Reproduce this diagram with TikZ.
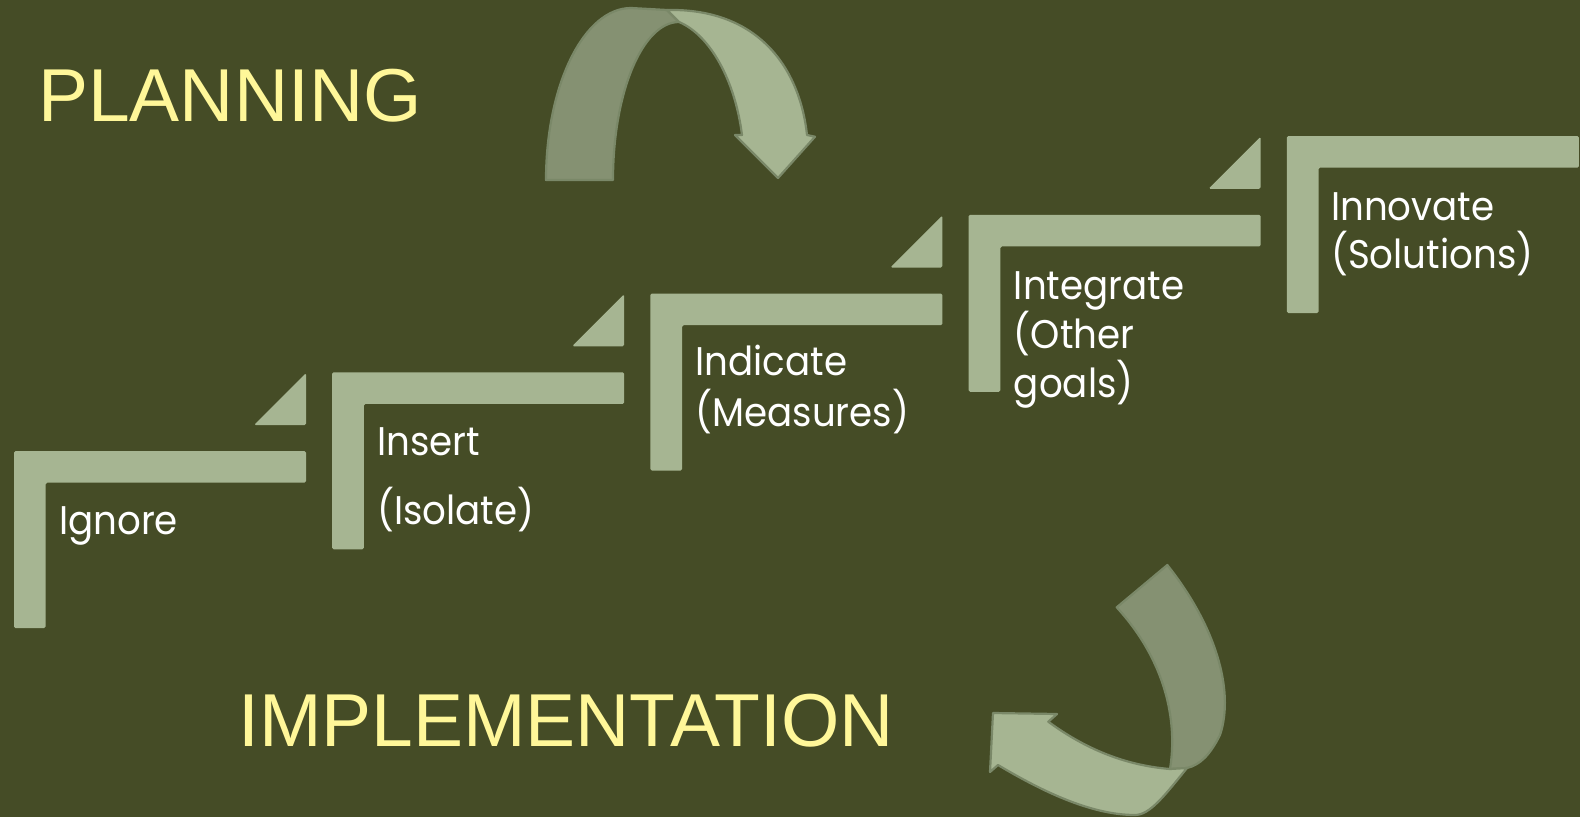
\documentclass[tikz,border=0pt]{standalone}
\usepackage{fontspec}
\usepackage{graphicx}
\newfontfamily\titlefont{Liberation Sans}
\newfontfamily\stepfont{Poppins}
\newcommand{\stxt}[1]{\scalebox{0.93}[1]{#1}}
\definecolor{bgc}{RGB}{69,76,38}
\definecolor{stepc}{RGB}{166,181,146}
\definecolor{darkc}{RGB}{133,145,114}
\definecolor{edgec}{RGB}{122,136,104}
\definecolor{titlec}{RGB}{255,247,153}
\tikzset{
  stepshape/.style={fill=stepc, rounded corners=1.5pt},
  steptext/.style={text=white, font=\stepfont\fontsize{40}{48}\selectfont, anchor=base west, inner sep=0pt},
  titletext/.style={text=titlec, font=\titlefont\fontsize{75}{90}\selectfont, anchor=base west, inner sep=0pt},
  arrowdark/.style={fill=darkc, draw=edgec, line width=2.2pt, line join=round},
  arrowlight/.style={fill=stepc, draw=edgec, line width=2.2pt, line join=round},
}
\begin{document}
\begin{tikzpicture}[x=1pt,y=-1pt]
\fill[bgc] (0,0) rectangle (1580,817);
\useasboundingbox (0,0) rectangle (1580,817);
% steps
\foreach \i in {0,...,4}{
  \pgfmathsetmacro{\sx}{14+318.2*\i}
  \pgfmathsetmacro{\sy}{451-78.75*\i}
  \fill[stepshape] (\sx,\sy) -- ++(292,0) -- ++(0,31.7) -- ++(-260.3,0) -- ++(0,145.3) -- ++(-31.7,0) -- cycle;
}
\foreach \i in {0,...,3}{
  \pgfmathsetmacro{\sx}{14+318.2*\i}
  \pgfmathsetmacro{\sy}{451-78.75*\i}
  \fill[stepshape] (\sx+240,\sy-26) -- (\sx+292,\sy-26) -- (\sx+292,\sy-78) -- cycle;
}
% texts
\node[steptext] (ignore) at (59,534) {\stxt{Ignore}};
\node[steptext] (insertA) at (377,455.7) {\stxt{Insert}};
\node[steptext] (insertB) at (377,524.3) {\stxt{(Isolate)}};
\node[steptext] (indicateA) at (695.3,375.7) {\stxt{Indicate}};
\node[steptext] (indicateB) at (695.3,426.7) {\stxt{(Measures)}};
\node[steptext] (integrateA) at (1013.7,299) {\stxt{Integrate}};
\node[steptext] (integrateB) at (1013.7,348.3) {\stxt{(Other}};
\node[steptext] (integrateC) at (1013.7,397) {\stxt{goals)}};
\node[steptext] (innovateA) at (1331,220) {\stxt{Innovate}};
\node[steptext] (innovateB) at (1331,268) {\stxt{(Solutions)}};
% titles
\node[titletext] (planning) at (38,121) {PLANNING};
\node[titletext] (implementation) at (238,746) {IMPLEMENTATION};
% top curved arrow
\draw[arrowdark] (546,180) .. controls (546,85) and (584,8) .. (631,8) -- (667,10) -- (679,22)
  .. controls (642.5,22) and (613,92.7) .. (613,180) -- cycle;
\draw[arrowlight] (667,10) .. controls (760,8) and (800,70) .. (807,135) -- (815,136.7) -- (778,178)
  -- (735,135) -- (742,135) .. controls (735,80) and (710,35) .. (679,22) -- cycle;
% bottom curved arrow
\draw[arrowdark] (1116.7,607.3) -- (1167.3,565) .. controls (1215,625) and (1235,690) .. (1220,735)
  .. controls (1210,755) and (1200,765) .. (1187,768) -- (1170,769)
  .. controls (1178,720) and (1165,660) .. (1116.7,607.3) -- cycle;
\draw[arrowlight] (1170,769) .. controls (1120,765) and (1080,745) .. (1048.3,721.7) -- (1057,714)
  -- (993,713) -- (990,772) -- (998,765) .. controls (1040,790) and (1090,815) .. (1135,815)
  .. controls (1150,815) and (1165,795) .. (1187,768) -- cycle;
\end{tikzpicture}
\end{document}
